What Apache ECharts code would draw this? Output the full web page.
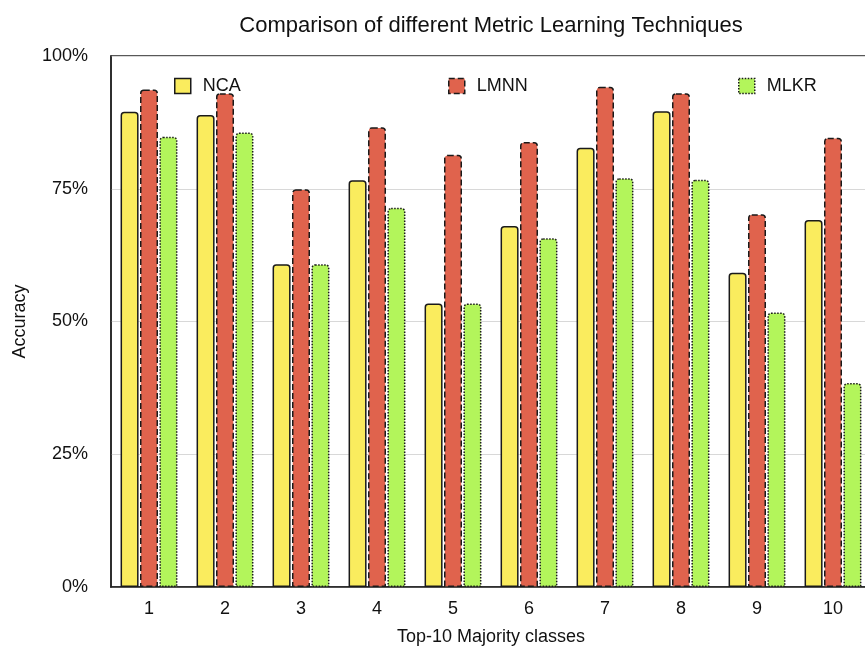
<!DOCTYPE html>
<html>
<head>
<meta charset="utf-8">
<script src="https://cdn.jsdelivr.net/npm/echarts@6/dist/echarts.min.js"></script>
<style>
html,body{margin:0;padding:0;background:#fff;}
#chart{width:865px;height:648px;}
</style>
</head>
<body>
<div id="chart"></div>
<script>
const categories = ['1','2','3','4','5','6','7','8','9','10'];
const ncaValues  = [89.5, 88.9, 60.8, 76.6, 53.4, 68.0, 82.7, 89.6, 59.2, 69.1];
const lmnnValues = [93.7, 93.0, 74.9, 86.6, 81.4, 83.8, 94.2, 93.0, 70.2, 84.6];
const mlkrValues = [84.8, 85.6, 60.8, 71.4, 53.4, 65.7, 77.0, 76.7, 51.7, 38.4];
const yTicks = [0, 25, 50, 75, 100];

const FONT = 'Liberation Sans, Arial, Helvetica, sans-serif';
const COLORS = {NCA: '#FAEC5E', LMNN: '#E0634D', MLKR: '#B3F55B'};
const BORDERS = {NCA: 'solid', LMNN: 'dashed', MLKR: 'dotted'};
const chart = echarts.init(document.getElementById('chart'), null, {renderer: 'canvas'});

function barSeries(name, data) {
  return {
    name: name,
    type: 'bar',
    data: data,
    barWidth: 18,
    barGap: '8%',
    itemStyle: {
      color: COLORS[name],
      borderColor: '#1a1a1a',
      borderWidth: 1.5,
      borderType: BORDERS[name],
      borderRadius: [3, 3, 0, 0]
    }
  };
}

function legendFor(name, left) {
  return {
    data: [{name: name, icon: 'rect',
            itemStyle: {color: COLORS[name], borderColor: '#1a1a1a', borderWidth: 1.5, borderType: BORDERS[name]}}],
    left: left, top: 77, padding: 0,
    itemWidth: 16, itemHeight: 15,
    textStyle: {fontFamily: FONT, fontSize: 18, color: '#111', padding: [0, 0, 0, 7]}
  };
}

chart.setOption({
  animation: false,
  backgroundColor: '#ffffff',
  textStyle: {fontFamily: FONT},
  title: {
    text: 'Comparison of different Metric Learning Techniques',
    left: 486, top: 10, textAlign: 'center',
    textStyle: {fontFamily: FONT, fontSize: 22, fontWeight: 'normal', color: '#111'}
  },
  legend: [legendFor('NCA', 174), legendFor('LMNN', 448), legendFor('MLKR', 738)],
  grid: {
    left: 111, top: 56, width: 760, bottom: 61,
    outerBoundsMode: 'none',
    containLabel: false,
    show: true, borderColor: '#222', borderWidth: 1.5, backgroundColor: 'transparent'
  },
  xAxis: {
    type: 'category',
    data: categories,
    name: 'Top-10 Majority classes',
    nameLocation: 'middle',
    nameGap: 41,
    nameTextStyle: {fontFamily: FONT, fontSize: 18, color: '#111'},
    axisLine: {show: true, lineStyle: {color: '#222', width: 1.5}},
    axisTick: {show: false},
    axisLabel: {fontFamily: FONT, fontSize: 18, color: '#111', margin: 13}
  },
  yAxis: {
    type: 'value',
    min: 0, max: 100, interval: 25,
    name: 'Accuracy',
    nameLocation: 'middle',
    nameGap: 82,
    nameRotate: 90,
    nameTextStyle: {fontFamily: FONT, fontSize: 18, color: '#111'},
    axisLine: {show: true, lineStyle: {color: '#222', width: 1.5}},
    axisTick: {show: false},
    splitLine: {show: true, lineStyle: {color: '#d8d8d8', width: 1.2}},
    axisLabel: {
      fontFamily: FONT, fontSize: 18, color: '#111', margin: 23,
      formatter: function (v) { return yTicks.indexOf(v) >= 0 ? v + '%' : ''; }
    }
  },
  series: [
    barSeries('NCA', ncaValues),
    barSeries('LMNN', lmnnValues),
    barSeries('MLKR', mlkrValues)
  ]
});
</script>
</body>
</html>
